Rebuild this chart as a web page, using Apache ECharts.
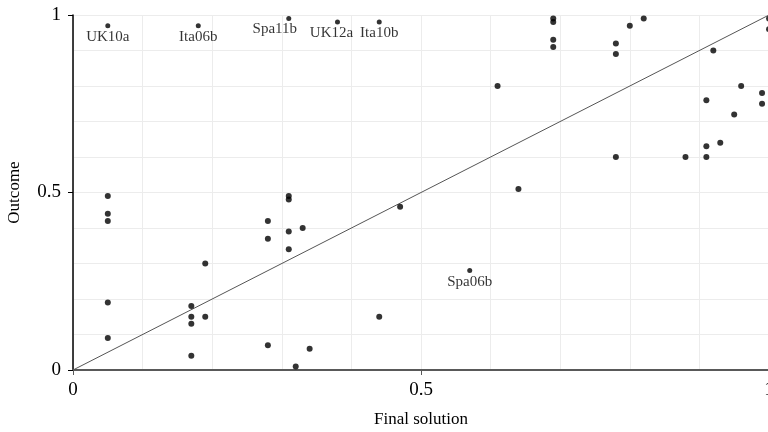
<!DOCTYPE html>
<html>
<head>
<meta charset="utf-8">
<title>Outcome vs Final solution</title>
<script src="https://cdn.jsdelivr.net/npm/echarts@6/dist/echarts.min.js"></script>
<style>
  html, body { margin: 0; padding: 0; background: #fff; }
  #chart { width: 768px; height: 432px; }
</style>
</head>
<body>
<div id="chart"></div>
<script>
// unlabelled cases
var xs = [0.05, 0.05, 0.05, 0.05, 0.05,
	0.17, 0.17, 0.17, 0.17, 0.19, 0.19,
	0.28, 0.28, 0.28, 0.31, 0.31, 0.31, 0.31, 0.33, 0.32, 0.34,
	0.44, 0.47, 0.61, 0.64,
	0.69, 0.69, 0.69, 0.69,
	0.78, 0.78, 0.78, 0.80, 0.82, 0.88,
	0.91, 0.91, 0.91, 0.92, 0.93, 0.95, 0.96, 0.99, 0.99, 1.0, 1.0];
var ys = [0.49, 0.44, 0.42, 0.19, 0.09,
	0.18, 0.15, 0.13, 0.04, 0.30, 0.15,
	0.42, 0.37, 0.07, 0.49, 0.48, 0.39, 0.34, 0.40, 0.01, 0.06,
	0.15, 0.46, 0.80, 0.51,
	0.99, 0.98, 0.93, 0.91,
	0.92, 0.89, 0.60, 0.97, 0.99, 0.60,
	0.76, 0.63, 0.60, 0.90, 0.64, 0.72, 0.80, 0.78, 0.75, 0.99, 0.96];

// labelled cases
var caseNames = ['UK10a', 'Ita06b', 'Spa11b', 'UK12a', 'Ita10b', 'Spa06b'];
var caseX = [0.05, 0.18, 0.31, 0.38, 0.44, 0.57];
var caseY = [0.97, 0.97, 0.99, 0.98, 0.98, 0.28];

// diagonal reference line
var diagX = [0, 1];
var diagY = [0, 1];

var serif = '"Liberation Serif", "DejaVu Serif", serif';

var chart = {
	init: function(){
		var myChart = echarts.init(document.getElementById('chart'));
		myChart.setOption(chart.getOption());
	},
	pairs: function(a, b){
		var out = [];
		for (var i = 0; i < a.length; i++) {
			out.push([a[i], b[i]]);
		}
		return out;
	},
	getOption: function(){
		var gridLine = { show: true, lineStyle: { color: '#ececec', width: 1 } };
		// nudge a couple of labels sideways so they don't collide
		var labelShift = { 'Spa11b': [-14, 0], 'UK12a': [-6, 0] };
		var labelled = [];
		for (var i = 0; i < caseNames.length; i++) {
			var item = { value: [caseX[i], caseY[i]], name: caseNames[i] };
			if (labelShift[caseNames[i]]) {
				item.label = { offset: labelShift[caseNames[i]] };
			}
			labelled.push(item);
		}
		return {
			animation: false,
			grid: { left: 73, top: 15, width: 696, bottom: 62, containLabel: false, outerBoundsMode: 'none' },
			xAxis: {
				type: 'value', min: 0, max: 1, interval: 0.5,
				name: 'Final solution', nameLocation: 'middle', nameGap: 41,
				nameTextStyle: { fontFamily: serif, fontSize: 17, color: '#000' },
				axisLine: { onZero: false, lineStyle: { color: '#595959', width: 2 } },
				axisTick: { show: true, length: 5, lineStyle: { color: '#595959' } },
				axisLabel: { fontFamily: serif, fontSize: 19, color: '#000', margin: 11 },
				splitLine: gridLine,
				minorTick: { show: false, splitNumber: 5 },
				minorSplitLine: gridLine
			},
			yAxis: {
				type: 'value', min: 0, max: 1, interval: 0.5,
				name: 'Outcome', nameLocation: 'middle', nameGap: 50,
				nameTextStyle: { fontFamily: serif, fontSize: 17, color: '#000' },
				axisLine: { show: true, lineStyle: { color: '#000', width: 1.5 } },
				axisTick: { show: true, length: 5, lineStyle: { color: '#000' } },
				axisLabel: { fontFamily: serif, fontSize: 19, color: '#000', margin: 12 },
				splitLine: gridLine,
				minorTick: { show: false, splitNumber: 5 },
				minorSplitLine: gridLine
			},
			series: [
				{
					type: 'line',
					data: chart.pairs(diagX, diagY),
					symbol: 'none',
					lineStyle: { color: '#555', width: 1 },
					z: 1
				},
				{
					type: 'scatter',
					data: chart.pairs(xs, ys),
					symbolSize: 6,
					itemStyle: { color: '#000' },
					z: 3
				},
				{
					type: 'scatter',
					data: labelled,
					symbolSize: 5,
					itemStyle: { color: '#000' },
					label: {
						show: true, position: 'bottom', distance: 1,
						formatter: '{b}',
						fontFamily: serif, fontSize: 15, color: '#000'
					},
					z: 3
				}
			]
		};
	}
};

chart.init();
</script>
</body>
</html>
